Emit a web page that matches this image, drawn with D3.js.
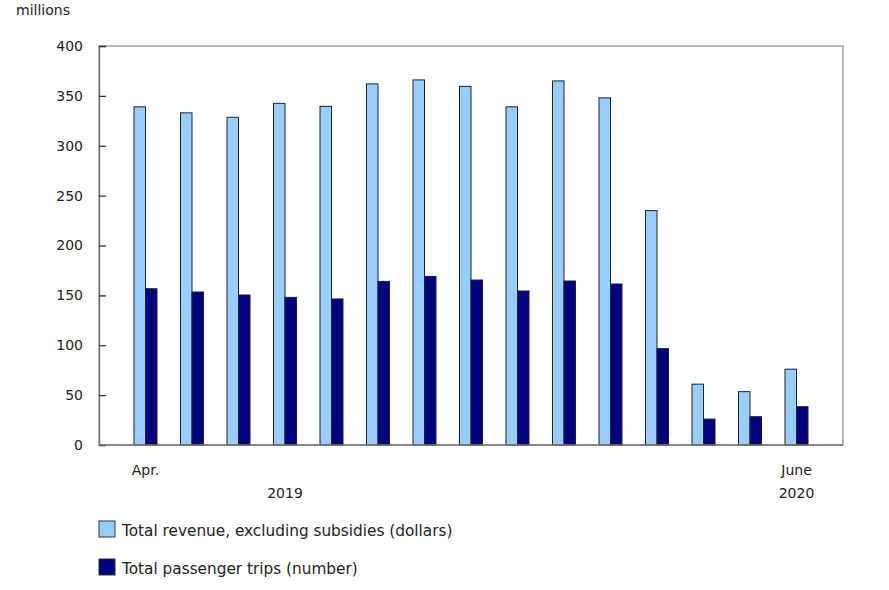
<!DOCTYPE html>
<html><head><meta charset="utf-8">
<script src="https://cdn.jsdelivr.net/npm/d3@7"></script>
<style>body{margin:0;background:#fff}svg text{font-family:"DejaVu Sans",Verdana,sans-serif;font-size:14px;fill:#222}</style>
</head><body><svg id="c" width="889" height="590"></svg>
<script>
const months = ["Apr.","May","June","July","Aug.","Sept.","Oct.","Nov.","Dec.","Jan.","Feb.","Mar.","Apr.","May","June"];
const revenue = [339,333,328.5,342.5,339.5,362,366,359.5,339,365,348,235,61,53.5,76];
const trips = [156.7,153.4,150.4,148,146.4,164,169,165.4,154.4,164.4,161.4,96.6,26,28.4,38.4];
const yTicks = [0,50,100,150,200,250,300,350,400];
const seriesNames = ["Total revenue, excluding subsidies (dollars)","Total passenger trips (number)"];
const seriesColors = ["#99ccff","#000080"];
const shownLabels = [{i:0,text:"Apr.",row:0},{i:14,text:"June",row:0},{i:3,text:"2019",row:1},{i:14,text:"2020",row:1}];

const svg = d3.select("#c");
const L=99, R=843, T=46, B=445;
const x = d3.scalePoint().domain(d3.range(months.length)).range([L,R]).padding(1);
const y = d3.scaleLinear().domain([0,400]).range([B,T]);
const bw = 11.5;

svg.append("rect").attr("x",L).attr("y",T).attr("width",R-L).attr("height",B-T)
  .attr("fill","none").attr("stroke","#888").attr("stroke-width",1.2);

const ya = svg.append("g").attr("transform",`translate(${L},0)`)
  .call(d3.axisLeft(y).tickValues(yTicks).tickSize(-7).tickPadding(16));
ya.select(".domain").attr("stroke","#777").attr("stroke-width",1.5);
ya.selectAll(".tick line").attr("stroke","#333").attr("stroke-width",1.3);
ya.selectAll(".tick text").attr("fill","#222").style("font-size","14px").style("font-family","DejaVu Sans, Verdana, sans-serif");

svg.append("text").attr("x",16).attr("y",15).text("millions");

const data = [revenue, trips];
data.forEach((vals,s)=>{
  svg.append("g").selectAll("rect").data(vals).join("rect")
    .attr("x",(d,i)=>x(i)-bw+s*bw).attr("width",bw)
    .attr("y",d=>y(d)).attr("height",d=>B-y(d))
    .attr("fill",seriesColors[s]).attr("stroke","#222").attr("stroke-width",1);
});

svg.append("line").attr("x1",L).attr("x2",R).attr("y1",B).attr("y2",B).attr("stroke","#777").attr("stroke-width",1.5);

svg.append("g").selectAll("text").data(shownLabels).join("text")
  .attr("x",d=>x(d.i)).attr("y",d=>d.row===0?475:498).attr("text-anchor","middle").text(d=>d.text);

const lg = svg.append("g").selectAll("g").data(seriesNames).join("g")
  .attr("transform",(d,i)=>`translate(99,${521+i*38})`);
lg.append("rect").attr("width",16).attr("height",16).attr("fill",(d,i)=>seriesColors[i]).attr("stroke","#333").attr("stroke-width",1);
lg.append("text").attr("x",23).attr("y",15).style("font-size","15.3px").text(d=>d);
</script></body></html>
